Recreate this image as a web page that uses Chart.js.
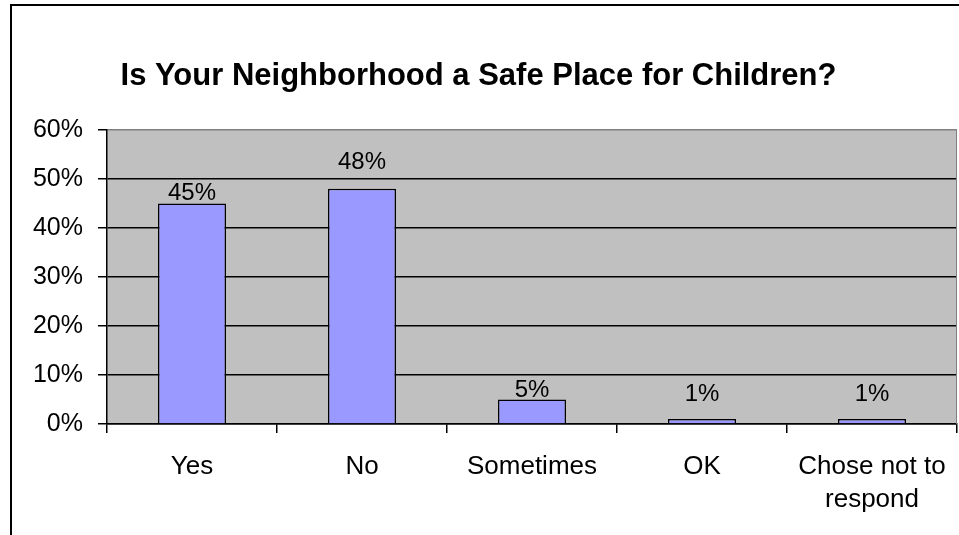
<!DOCTYPE html>
<html>
<head>
<meta charset="utf-8">
<style>
  html, body { margin: 0; padding: 0; background: #fff; }
  #wrap { width: 959px; height: 535px; position: relative; }
</style>
<script src="https://cdn.jsdelivr.net/npm/chart.js@4.4.1/dist/chart.umd.min.js"></script>
</head>
<body>
<div id="wrap"><canvas id="chart" width="959" height="535"></canvas></div>
<script>
// Survey answers and their shares
const categories = ['Yes', 'No', 'Sometimes', 'OK', ['Chose not to', 'respond']];
const shares = [0.45, 0.48, 0.05, 0.01, 0.01];
const shareLabels = ['45%', '48%', '5%', '1%', '1%'];
const yTicks = [0, 0.1, 0.2, 0.3, 0.4, 0.5, 0.6];

const FONT = '"Liberation Sans", Arial, sans-serif';

// Frame around the chart and grey plot background
const framePlugin = {
  id: 'frame',
  beforeDraw(chart) {
    const { ctx, chartArea: a } = chart;
    ctx.save();
    ctx.fillStyle = '#fff';
    ctx.fillRect(0, 0, chart.width, chart.height);
    ctx.strokeStyle = '#000';
    ctx.lineWidth = 2;
    ctx.beginPath();
    ctx.moveTo(11, chart.height + 5);
    ctx.lineTo(11, 5);
    ctx.lineTo(chart.width + 5, 5);
    ctx.stroke();
    ctx.fillStyle = '#c0c0c0';
    ctx.fillRect(a.left, a.top, a.right - a.left, a.bottom - a.top);
    ctx.restore();
  },
  afterDatasetsDraw(chart) {
    const { ctx, chartArea: a } = chart;
    ctx.save();
    ctx.strokeStyle = '#808080';
    ctx.lineWidth = 1;
    ctx.beginPath();
    ctx.moveTo(a.right - 0.5, a.top);
    ctx.lineTo(a.right - 0.5, a.bottom);
    ctx.stroke();
    ctx.restore();
  }
};

// Value labels above each bar
const valueLabelPlugin = {
  id: 'valueLabels',
  afterDatasetsDraw(chart, args, opts) {
    const { ctx } = chart;
    const meta = chart.getDatasetMeta(0);
    ctx.save();
    ctx.font = opts.font;
    ctx.fillStyle = '#000';
    ctx.textAlign = 'center';
    ctx.textBaseline = 'alphabetic';
    meta.data.forEach((bar, i) => {
      const lift = opts.lift[i];
      ctx.fillText(shareLabels[i], bar.x, bar.y - lift);
    });
    ctx.restore();
  }
};

new Chart(document.getElementById('chart'), {
  type: 'bar',
  data: {
    labels: categories,
    datasets: [{
      data: shares,
      backgroundColor: '#9999ff',
      borderColor: '#000',
      borderWidth: 1.5,
      barPercentage: 0.4,
      categoryPercentage: 1.0
    }]
  },
  plugins: [framePlugin, valueLabelPlugin],
  options: {
    responsive: false,
    animation: false,
    devicePixelRatio: 1,
    layout: { padding: { left: 0, right: 2, top: 0, bottom: 0 } },
    plugins: {
      legend: { display: false },
      tooltip: { enabled: false },
      title: {
        display: true,
        text: 'Is Your Neighborhood a Safe Place for Children?',
        color: '#000',
        font: { family: FONT, size: 31, weight: 'bold', lineHeight: 1.2 },
        padding: { top: 58, bottom: 34.8 }
      },
      valueLabels: {
        font: '24px ' + FONT,
        lift: [4, 20, 3, 18, 18]
      }
    },
    scales: {
      x: {
        grid: {
          offset: true,
          drawOnChartArea: false,
          color: '#000',
          tickLength: 9,
          lineWidth: 1.5
        },
        border: { color: '#000', width: 1.5 },
        ticks: {
          color: '#000',
          font: { family: FONT, size: 26, lineHeight: 1.27 },
          padding: 17,
          maxRotation: 0,
          autoSkip: false
        },
        afterFit(scale) {
          scale.height = 111;
          scale.paddingLeft = 0;
          scale.paddingRight = 0;
        }
      },
      y: {
        min: 0,
        max: 0.6,
        afterBuildTicks(scale) { scale.ticks = yTicks.map(v => ({ value: v })); },
        grid: {
          color: ctx => (ctx.tick && ctx.tick.value >= 0.6 ? '#808080' : '#000'),
          tickColor: '#000',
          tickLength: 9,
          lineWidth: 1.5
        },
        border: { color: '#000', width: 1.5 },
        ticks: {
          color: '#000',
          font: { family: FONT, size: 25 },
          padding: 15,
          callback: v => Math.round(v * 100) + '%'
        },
        afterFit(scale) { scale.width = 107; }
      }
    }
  }
});
</script>
</body>
</html>
